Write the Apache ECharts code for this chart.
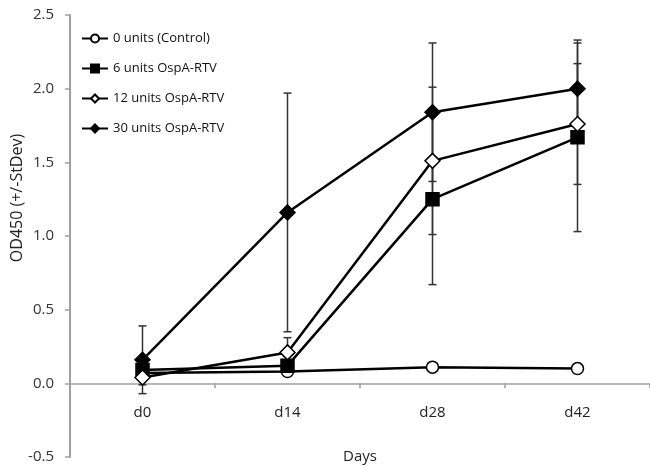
<!DOCTYPE html>
<html>
<head>
<meta charset="utf-8">
<script src="https://cdn.jsdelivr.net/npm/echarts@6/dist/echarts.min.js"></script>
<style>
  html, body { margin: 0; padding: 0; background: #fff; }
  #chart { width: 650px; height: 467px; }
</style>
</head>
<body>
<div id="chart"></div>
<script>
// Sampling days
const days = ['d0', 'd14', 'd28', 'd42'];

// Mean OD450 per group
const control = [0.07, 0.08, 0.11, 0.10];
const units6 = [0.09, 0.12, 1.25, 1.67];
const units12 = [0.04, 0.21, 1.51, 1.76];
const units30 = [0.16, 1.16, 1.84, 2.00];

// Standard deviations per group
const controlSd = [0.02, 0.02, 0.02, 0.02];
const units6Sd = [0.03, 0.03, 0.58, 0.64];
const units12Sd = [0.05, 0.10, 0.50, 0.41];
const units30Sd = [0.23, 0.81, 0.47, 0.33];

const groupNames = ['0 units (Control)', '6 units OspA-RTV', '12 units OspA-RTV', '30 units OspA-RTV'];

// Value axis range
const yMin = -0.5;
const yMax = 2.5;
const yStep = 0.5;

const FONT = '"Open Sans", "Liberation Sans", sans-serif';

const GRID = { left: 70, right: 0, top: 15, bottom: 10 };
const H = 467;
const plotH = H - GRID.top - GRID.bottom;
// The category axis sits on y = 0, so lift it from the grid's bottom edge
const zeroLift = plotH * (0 - yMin) / (yMax - yMin);

const chart = echarts.init(document.getElementById('chart'));

// Vertical whiskers with caps: one custom series per group
function errorSeries(means, sds) {
  const data = means.map((m, i) => [i, m - sds[i], m + sds[i]]);
  return {
    type: 'custom',
    z: 1,
    silent: true,
    data: data,
    renderItem: function (params, api) {
      const x = api.value(0);
      const lo = api.coord([x, api.value(1)]);
      const hi = api.coord([x, api.value(2)]);
      const cap = 4;
      const style = { stroke: '#333', lineWidth: 1.5 };
      return {
        type: 'group',
        children: [
          { type: 'line', shape: { x1: lo[0], y1: lo[1], x2: hi[0], y2: hi[1] }, style: style },
          { type: 'line', shape: { x1: lo[0] - cap, y1: lo[1], x2: lo[0] + cap, y2: lo[1] }, style: style },
          { type: 'line', shape: { x1: hi[0] - cap, y1: hi[1], x2: hi[0] + cap, y2: hi[1] }, style: style }
        ]
      };
    }
  };
}

function lineSeries(name, values, symbol, size, fill) {
  return {
    name: name,
    type: 'line',
    z: 3,
    data: values,
    symbol: symbol,
    symbolSize: size,
    showAllSymbol: true,
    lineStyle: { color: '#000', width: 2.5 },
    itemStyle: { color: fill, borderColor: '#000', borderWidth: 1.5 },
    emphasis: { disabled: true }
  };
}

chart.setOption({
  animation: false,
  backgroundColor: '#fff',
  grid: Object.assign({ containLabel: false, outerBoundsMode: 'none' }, GRID),
  legend: {
    orient: 'vertical',
    left: 76,
    top: 27,
    itemWidth: 26,
    itemHeight: 10,
    itemGap: 17,
    textStyle: { fontFamily: FONT, fontSize: 13, color: '#111' },
    data: groupNames
  },
  xAxis: {
    type: 'category',
    data: days,
    boundaryGap: true,
    position: 'bottom',
    offset: -zeroLift,
    name: 'Days',
    nameLocation: 'middle',
    nameGap: 66,
    nameMoveOverlap: false,
    nameTextStyle: { fontFamily: FONT, fontSize: 15, color: '#222' },
    axisLine: { onZero: false, lineStyle: { color: '#a0a0a0', width: 1.5 } },
    axisTick: { show: true, length: 5, lineStyle: { color: '#a0a0a0', width: 1.5 } },
    axisLabel: { margin: 22, fontFamily: FONT, fontSize: 15, color: '#222' },
    splitLine: { show: false }
  },
  yAxis: {
    type: 'value',
    min: yMin,
    max: yMax,
    interval: yStep,
    name: 'OD450 (+/-StDev)',
    nameLocation: 'middle',
    nameGap: 45,
    nameRotate: 90,
    nameMoveOverlap: false,
    nameTextStyle: { fontFamily: FONT, fontSize: 16, color: '#222', padding: [0, 0, 0, 76] },
    axisLine: { show: true, onZero: false, lineStyle: { color: '#a0a0a0', width: 2 } },
    axisTick: { show: true, length: 5, lineStyle: { color: '#a0a0a0', width: 1.5 } },
    axisLabel: {
      margin: 16,
      fontFamily: FONT,
      fontSize: 15,
      color: '#333',
      formatter: v => v.toFixed(1)
    },
    splitLine: { show: false }
  },
  series: [
    errorSeries(control, controlSd),
    errorSeries(units6, units6Sd),
    errorSeries(units12, units12Sd),
    errorSeries(units30, units30Sd),
    lineSeries(groupNames[0], control, 'circle', 12, '#fff'),
    lineSeries(groupNames[1], units6, 'rect', 13, '#000'),
    lineSeries(groupNames[2], units12, 'diamond', 15, '#fff'),
    lineSeries(groupNames[3], units30, 'diamond', 15, '#000')
  ]
});
</script>
</body>
</html>
